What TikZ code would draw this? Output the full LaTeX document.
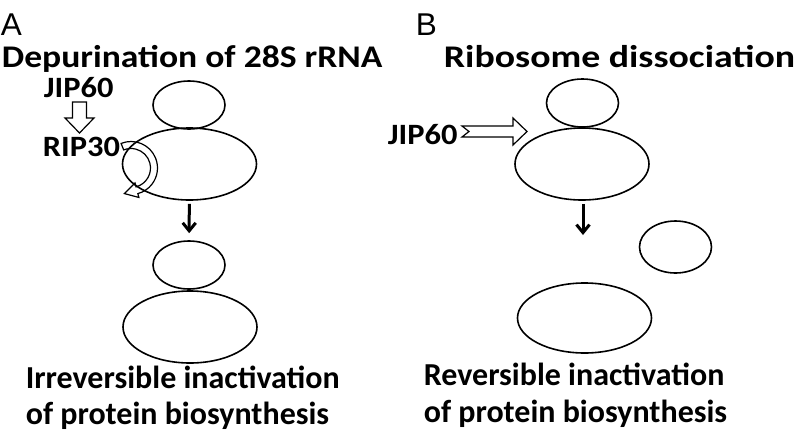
\documentclass[tikz,border=0pt]{standalone}
\usepackage{fontspec}
\setmainfont{Carlito}
\newfontfamily\panelfont{Liberation Sans}
\usetikzlibrary{arrows.meta,shapes.geometric,calc}
\begin{document}
\begin{tikzpicture}[x=1pt,y=-1pt,>={Straight Barb[length=8pt,width=13pt]},line width=1.6]
\tikzstyle{ribo}=[ellipse,draw,inner sep=0pt]
\tikzstyle{smallsub}=[ribo,minimum width=72,minimum height=48]
\tikzstyle{largesub}=[ribo,minimum width=134,minimum height=72]
\tikzstyle{txt}=[anchor=base west,inner sep=0pt,font=\fontsize{32}{38}\selectfont\bfseries]
\tikzstyle{head}=[txt,font=\fontsize{31.5}{38}\selectfont\bfseries]
\tikzstyle{agent}=[txt,font=\fontsize{29.5}{34}\selectfont\bfseries,xscale=1.1]
\tikzstyle{panel}=[anchor=base west,inner sep=0pt,font=\fontsize{31.5}{36}\selectfont\panelfont]
\tikzstyle{hollow}=[draw,fill=white,line width=1.2,line join=miter]
\tikzstyle{down}=[->,line width=3]
  \useasboundingbox (0,0) rectangle (796,432);
  % panel A
  \node(A)at(0,35)[panel]{A};
  \node(titleA)at(1,67)[head,xscale=1.13]{Depurination of 28S rRNA};
  \node(jipA)at(43,97)[agent]{JIP60};
  \node(rip)at(42,156)[agent]{RIP30};
  \node(topA)at(189,105)[smallsub]{};
  \node(bigA)at(189.5,164)[largesub]{};
  \node(topA2)at(189,265)[smallsub]{};
  \node(bigA2)at(190,327)[largesub]{};
  \node(resA1)at(25,388)[txt]{Irreversible inactivation};
  \node(resA2)at(25,424)[txt]{of protein biosynthesis};
  \draw[hollow](72.5,102)--++(0,16)--++(-7.5,0)--++(14.5,15)--++(14.5,-15)--++(-7.5,0)--++(0,-16)--cycle;
  \coordinate(rc)at(131,168);
  \draw[hollow,fill=none]($(rc)+(-112:26.5)$)arc[start angle=-112,end angle=75,radius=26.5]
    --($(rc)+(75:30.5)$)--($(rc)+(75:23)+(165:13)$)--($(rc)+(75:15.5)$)
    --($(rc)+(75:19.5)$)arc[start angle=75,end angle=-112,radius=19.5]--cycle;
  \draw[down,shorten <=3,shorten >=7](bigA)--(topA2);
  % panel B
  \node(B)at(415,35)[panel]{B};
  \node(titleB)at(443,67)[head,xscale=1.2]{Ribosome dissociation};
  \node(jipB)at(387,144.5)[agent]{JIP60};
  \node(topB)at(582.5,103)[smallsub]{};
  \node(bigB)at(582,164)[largesub]{};
  \node(freeB)at(675.5,247)[smallsub,minimum height=52]{};
  \node(bigB2)at(584.5,318)[largesub,minimum height=70]{};
  \node(resB1)at(423,385)[txt]{Reversible inactivation};
  \node(resB2)at(423,422)[txt]{of protein biosynthesis};
  \draw[hollow](462,126)--(513,126)--(513,118)--(527,131.5)--(513,145)--(513,137)--(462,137)--(469,131.5)--cycle;
  \coordinate(endB)at(583,235);
  \draw[down,shorten <=3](bigB.south-|endB)--(endB);
\end{tikzpicture}
\end{document}
